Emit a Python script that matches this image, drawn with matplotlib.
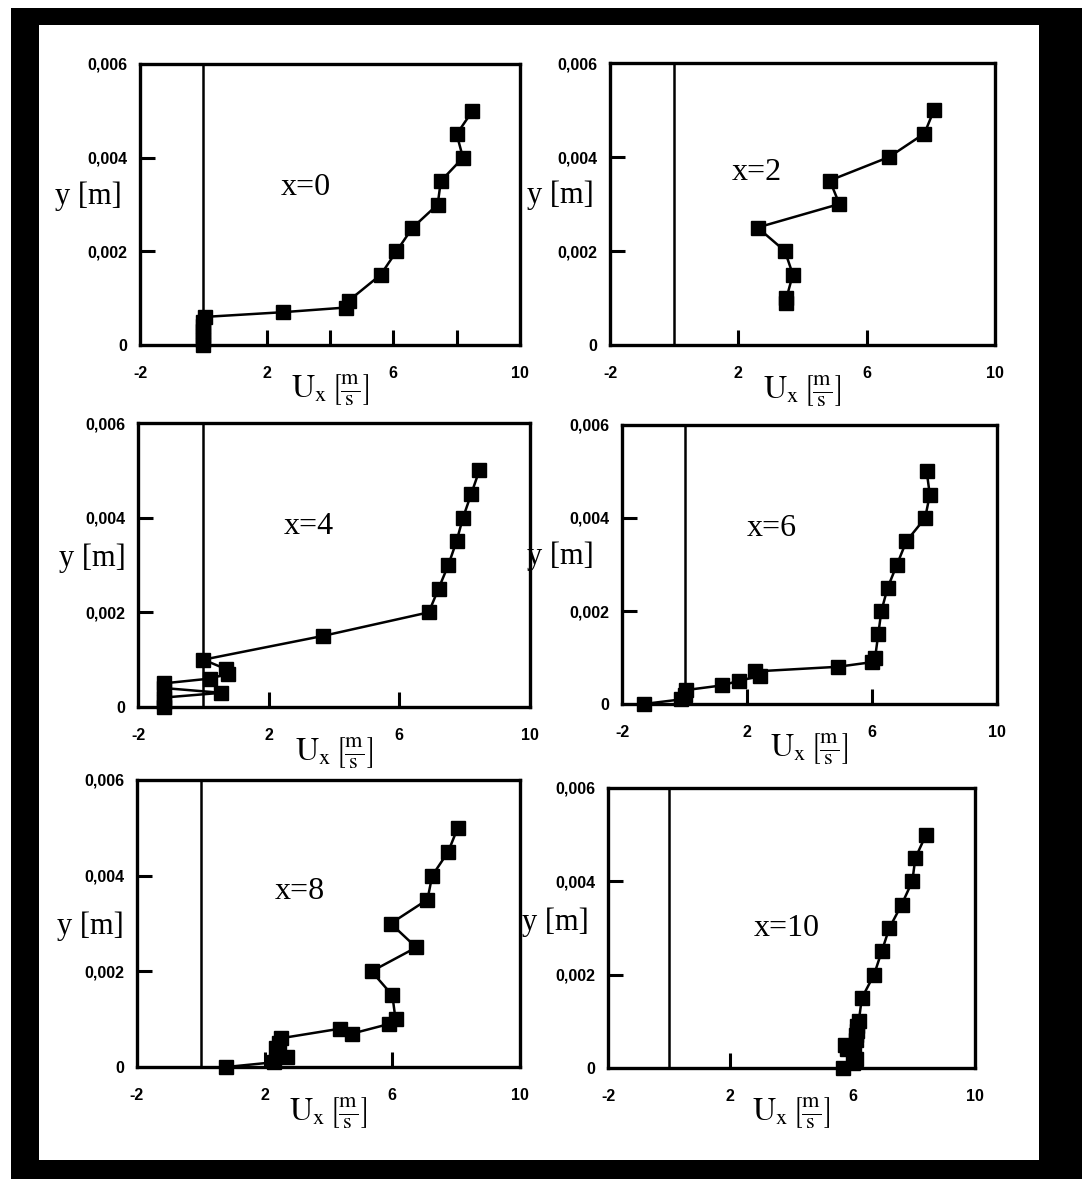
import matplotlib
matplotlib.use("Agg")
import matplotlib.pyplot as plt
from matplotlib.patches import Rectangle

# ---------------- data ----------------
panel_titles = ["x=0", "x=2", "x=4", "x=6", "x=8", "x=10"]

ux_x0 = [0.0, 0.0, 0.0, 0.0, 0.0, 0.0, 0.05, 2.5, 4.5, 4.6, 5.6, 6.1, 6.6, 7.4, 7.5, 8.2, 8.0, 8.5]
y_x0 = [0.0, 0.0001, 0.0002, 0.0003, 0.0004, 0.0005, 0.0006, 0.0007, 0.0008, 0.00095,
        0.0015, 0.002, 0.0025, 0.003, 0.0035, 0.004, 0.0045, 0.005]

ux_x2 = [3.5, 3.5, 3.7, 3.45, 2.6, 5.15, 4.85, 6.7, 7.8, 8.1]
y_x2 = [0.0009, 0.001, 0.0015, 0.002, 0.0025, 0.003, 0.0035, 0.004, 0.0045, 0.005]

ux_x4 = [-1.2, -1.2, -1.2, 0.55, -1.2, -1.2, 0.2, 0.75, 0.7, 0.0, 3.65, 6.9, 7.2, 7.5, 7.75, 7.95, 8.2, 8.45]
y_x4 = [0.0, 0.0001, 0.0002, 0.0003, 0.0004, 0.0005, 0.0006, 0.0007, 0.0008, 0.001,
        0.0015, 0.002, 0.0025, 0.003, 0.0035, 0.004, 0.0045, 0.005]

ux_x6 = [-1.3, -0.1, 0.0, 0.05, 1.2, 1.75, 2.4, 2.25, 4.9, 6.0, 6.1, 6.2, 6.3, 6.5, 6.8, 7.1, 7.7, 7.85, 7.75]
y_x6 = [0.0, 0.0001, 0.0002, 0.0003, 0.0004, 0.0005, 0.0006, 0.0007, 0.0008, 0.0009, 0.001,
        0.0015, 0.002, 0.0025, 0.003, 0.0035, 0.004, 0.0045, 0.005]

ux_x8 = [0.8, 2.3, 2.7, 2.4, 2.35, 2.45, 2.5, 4.35, 4.75, 5.9, 6.1, 6.0, 5.35, 6.75, 5.95, 7.1, 7.25, 7.75, 8.05]
y_x8 = [0.0, 0.0001, 0.0002, 0.0003, 0.0004, 0.0005, 0.0006, 0.0008, 0.0007, 0.0009, 0.001,
        0.0015, 0.002, 0.0025, 0.003, 0.0035, 0.004, 0.0045, 0.005]

ux_x10 = [5.7, 6.0, 6.1, 6.05, 5.8, 5.75, 6.1, 6.1, 6.15, 6.15, 6.2, 6.3, 6.7, 6.95, 7.2, 7.6, 7.95, 8.05, 8.4]
y_x10 = [0.0, 0.0001, 0.0002, 0.0003, 0.0004, 0.0005, 0.0006, 0.0007, 0.0008, 0.0009, 0.001,
         0.0015, 0.002, 0.0025, 0.003, 0.0035, 0.004, 0.0045, 0.005]

series = [(ux_x0, y_x0), (ux_x2, y_x2), (ux_x4, y_x4),
          (ux_x6, y_x6), (ux_x8, y_x8), (ux_x10, y_x10)]

x_tick_values = [-2, 2, 6, 10]
x_tick_labels = ["-2", "2", "6", "10"]
y_tick_values = [0.0, 0.002, 0.004, 0.006]
y_tick_labels = ["0", "0,002", "0,004", "0,006"]
minor_ticks = [[2, 4, 6, 8], [2, 6], [2, 6], [2, 6], [2, 6], [2, 6]]

# ---------------- layout ----------------
W, H = 1082, 1179
# (left, right, top, bottom) in pixels
boxes = [(140, 520, 64, 345), (610, 995, 63, 345),
         (138, 530, 423, 707), (622, 997, 425, 704),
         (137, 520, 780, 1067), (608, 975, 788, 1068)]
title_pos = [(0.437, 0.562), (0.38, 0.61), (0.436, 0.634),
             (0.40, 0.63), (0.426, 0.61), (0.488, 0.50)]
ylabel_dx = [52, 50, 46, 62, 47, 53]
ylabel_fy = [0.53, 0.53, 0.525, 0.53, 0.49, 0.52]

plt.rcParams['mathtext.fontset'] = 'stix'
fig = plt.figure(figsize=(W / 100, H / 100), dpi=100)
fig.patch.set_facecolor('white')
fig.patches.append(Rectangle((11 / W, 0), 1, (H - 8) / H, transform=fig.transFigure,
                             facecolor='black', edgecolor='none', zorder=-10))
fig.patches.append(Rectangle((39 / W, 19 / H), 1000 / W, 1135 / H, transform=fig.transFigure,
                             facecolor='white', edgecolor='none', zorder=-9))

serif = 'Liberation Serif'
for i, (ux, yy) in enumerate(series):
    L, R, T, B = boxes[i]
    ax = fig.add_axes([L / W, (H - B) / H, (R - L) / W, (B - T) / H])
    ax.set_facecolor('white')
    ax.set_xlim(-2, 10)
    ax.set_ylim(0, 0.006)
    ax.xaxis.remove_overlapping_locs = False
    ax.yaxis.remove_overlapping_locs = False
    ax.axvline(0, color='black', lw=1.8, zorder=1)
    ax.plot(ux, yy, color='black', lw=1.8, marker='s', markersize=9.5,
            markerfacecolor='black', markeredgecolor='black', clip_on=False, zorder=3)
    for s in ax.spines.values():
        s.set_linewidth(2.4)
    ax.set_xticks(x_tick_values)
    ax.set_xticklabels(x_tick_labels)
    ax.set_xticks(minor_ticks[i], minor=True)
    ax.set_yticks(y_tick_values)
    ax.set_yticklabels(y_tick_labels)
    ax.set_yticks([0.002, 0.004], minor=True)
    ax.tick_params(axis='both', which='major', length=0, labelsize=11.5)
    ax.tick_params(axis='x', which='major', pad=15)
    ax.tick_params(axis='y', which='major', pad=9)
    ax.tick_params(axis='both', which='minor', direction='in', length=11, width=2.2)
    for lab in ax.get_xticklabels() + ax.get_yticklabels():
        lab.set_fontweight('bold')
        lab.set_family('Liberation Sans')
    ax.text(title_pos[i][0], title_pos[i][1], panel_titles[i], transform=ax.transAxes,
            ha='center', va='center', fontsize=23, family=serif)
    w = R - L
    ax.text(-ylabel_dx[i] / w, ylabel_fy[i], "y [m]", transform=ax.transAxes,
            ha='center', va='center', fontsize=22, family=serif)
    ax.text(0.5, -0.16, r"$\mathrm{U_x\,\left[\frac{m}{s}\right]}$", transform=ax.transAxes,
            ha='center', va='center', fontsize=23)

fig.savefig("out.png", dpi=100)
